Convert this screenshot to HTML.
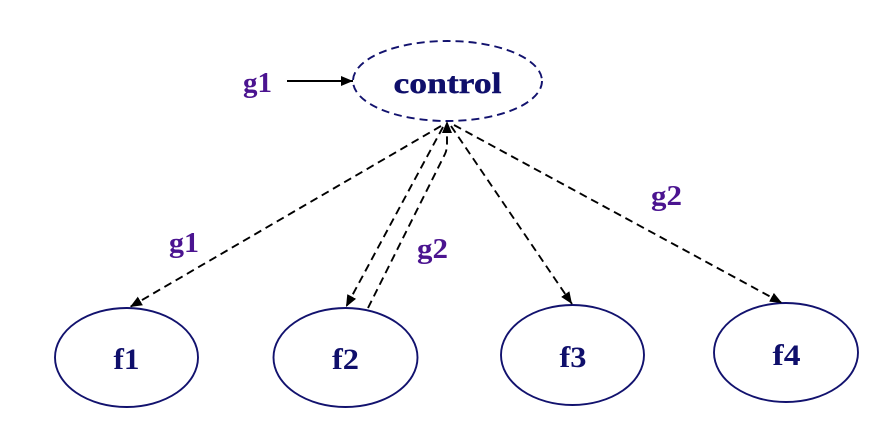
<!DOCTYPE html>
<html>
<head>
<meta charset="utf-8">
<style>
  html, body { margin: 0; padding: 0; background: #ffffff; }
  svg { display: block; }
  .lbl { font-family: "Liberation Serif", serif; font-weight: bold; fill: #4b1490; font-size: 28px; }
  .node { font-family: "Liberation Serif", serif; font-weight: bold; fill: #0f0f6b; font-size: 30px; }
</style>
</head>
<body>
<svg width="881" height="447" viewBox="0 0 881 447" xmlns="http://www.w3.org/2000/svg">
  <defs>
    <marker id="ah" markerUnits="userSpaceOnUse" markerWidth="14" markerHeight="12" refX="12" refY="5" orient="auto">
      <path d="M0,0 L12,5 L0,10 z" fill="#000"/>
    </marker>
  </defs>

  <!-- control node -->
  <ellipse cx="447.5" cy="81" rx="94.5" ry="40" fill="none" stroke="#12126e" stroke-width="1.9" stroke-dasharray="8,5"/>
  <text class="node" x="447.5" y="93" text-anchor="middle" textLength="108" lengthAdjust="spacingAndGlyphs" stroke="#0f0f6b" stroke-width="0.4">control</text>

  <!-- g1 -> control -->
  <text class="lbl" x="243" y="92" textLength="29" lengthAdjust="spacingAndGlyphs">g1</text>
  <line x1="287" y1="81" x2="353" y2="81" stroke="#000" stroke-width="1.9" marker-end="url(#ah)"/>

  <!-- leaf nodes -->
  <ellipse cx="126.5" cy="357.5" rx="71.5" ry="49.5" fill="none" stroke="#12126e" stroke-width="1.9"/>
  <text class="node" x="126.5" y="369" text-anchor="middle" textLength="26" lengthAdjust="spacingAndGlyphs">f1</text>

  <ellipse cx="345.5" cy="357.5" rx="72" ry="49.5" fill="none" stroke="#12126e" stroke-width="1.9"/>
  <text class="node" x="345.5" y="369" text-anchor="middle" textLength="27" lengthAdjust="spacingAndGlyphs">f2</text>

  <ellipse cx="572.5" cy="355" rx="71.5" ry="50" fill="none" stroke="#12126e" stroke-width="1.9"/>
  <text class="node" x="573" y="367" text-anchor="middle" textLength="27" lengthAdjust="spacingAndGlyphs">f3</text>

  <ellipse cx="786" cy="352.5" rx="72" ry="49.5" fill="none" stroke="#12126e" stroke-width="1.9"/>
  <text class="node" x="786.5" y="365" text-anchor="middle" textLength="28" lengthAdjust="spacingAndGlyphs">f4</text>

  <!-- dashed edges -->
  <g fill="none" stroke="#000" stroke-width="1.9" stroke-dasharray="8,5">
    <line x1="441" y1="126" x2="130" y2="307" marker-end="url(#ah)"/>
    <line x1="443" y1="127" x2="346" y2="307" marker-end="url(#ah)"/>
    <line x1="451" y1="126" x2="572" y2="304" marker-end="url(#ah)"/>
    <line x1="454" y1="125" x2="782" y2="303" marker-end="url(#ah)"/>
    <path d="M368,308 L445,154 Q447,150 447,143 L447,121" marker-end="url(#ah)"/>
  </g>

  <!-- edge labels -->
  <text class="lbl" x="169" y="252" textLength="30" lengthAdjust="spacingAndGlyphs">g1</text>
  <text class="lbl" x="417" y="258" textLength="31" lengthAdjust="spacingAndGlyphs">g2</text>
  <text class="lbl" x="651" y="205" textLength="31" lengthAdjust="spacingAndGlyphs">g2</text>
</svg>
</body>
</html>
